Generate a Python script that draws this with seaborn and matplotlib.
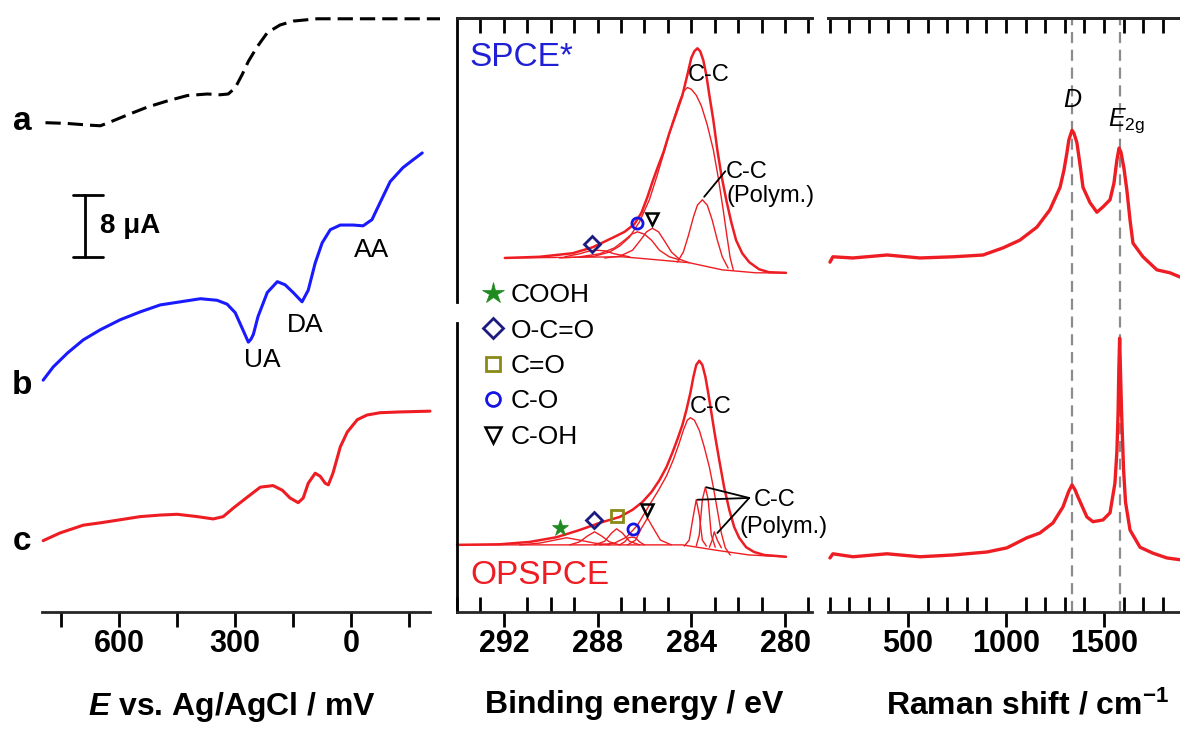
import numpy as np
import matplotlib.pyplot as plt
import seaborn as sns
from matplotlib.lines import Line2D
from matplotlib.ticker import MultipleLocator

sns.set_style('white')
plt.rcParams['font.family'] = ['Liberation Sans', 'DejaVu Sans']
plt.rcParams['text.color'] = 'black'
plt.rcParams['axes.labelcolor'] = 'black'
plt.rcParams['xtick.color'] = 'black'
plt.rcParams['mathtext.fontset'] = 'custom'
plt.rcParams['mathtext.rm'] = 'Liberation Sans'
plt.rcParams['mathtext.it'] = 'Liberation Sans:italic'
plt.rcParams['mathtext.bf'] = 'Liberation Sans:bold'
if 'mathtext.bfit' in plt.rcParams:
    plt.rcParams['mathtext.bfit'] = 'Liberation Sans:italic:bold'

# --- CV curves (E in mV, current in uA with offsets) ---
CV_A_E = [791, 734, 683, 649, 623, 579, 528, 476, 424, 372, 339, 318, 300, 282,
          266, 243, 217, 184, 150, 88, -41, -230]
CV_A_I = [63.1, 63.0, 62.8, 62.7, 63.2, 64.1, 65.1, 65.9, 66.6, 66.8, 66.7, 66.8,
          67.6, 69.3, 71.0, 72.9, 74.7, 75.7, 76.2, 76.5, 76.5, 76.5]

CV_B_E = [797, 771, 734, 693, 649, 597, 546, 494, 442, 390, 347, 321, 300, 282,
          274, 266, 259, 253, 241, 217, 191, 171, 150, 127, 111, 93, 75, 54, 28,
          -5, -31, -54, -75, -101, -134, -160, -184]
CV_B_I = [29.9, 31.6, 33.4, 35.1, 36.4, 37.7, 38.7, 39.6, 40.0, 40.4, 40.2, 39.7,
          38.6, 36.6, 35.7, 34.8, 35.2, 35.8, 38.1, 41.2, 42.6, 42.2, 41.2, 40.0,
          41.5, 45.0, 47.6, 49.3, 49.9, 49.9, 49.8, 50.6, 52.8, 55.5, 57.3, 58.3, 59.2]

CV_C_E = [797, 753, 693, 649, 597, 546, 494, 450, 398, 357, 331, 305, 269, 235,
          202, 178, 158, 137, 124, 111, 93, 80, 67, 59, 47, 28, 10, -16, -41,
          -75, -127, -204]
CV_C_I = [9.2, 10.2, 11.2, 11.5, 11.9, 12.3, 12.5, 12.6, 12.3, 12.0, 12.3, 13.4,
          14.8, 16.1, 16.3, 15.7, 14.7, 14.1, 14.7, 16.6, 17.9, 17.5, 16.6, 16.4,
          17.9, 21.3, 23.2, 24.8, 25.4, 25.7, 25.8, 25.9]

CV_TICKS = [750, 600, 450, 300, 150, 0, -150]
CV_TICK_LABELS = ['', '600', '', '300', '', '0', '']
SCALE_E, SCALE_BOTTOM, SCALE_UA = 688, 45.8, 8

# --- XPS C1s (binding energy eV, intensity a.u.) ---
SPCE_ENV_BE = [291.96, 290.47, 289.06, 288.21, 287.36, 286.85, 286.43, 286.13,
               285.87, 285.66, 285.45, 285.19, 284.94, 284.64, 284.38, 284.17,
               284.00, 283.87, 283.74, 283.62, 283.49, 283.36, 283.23, 283.06,
               282.89, 282.72, 282.51, 282.30, 282.09, 281.83, 281.53, 281.11,
               280.68, 279.96]
SPCE_ENV_I = [59.6, 59.8, 60.4, 61.4, 63.0, 64.0, 65.3, 67.2, 69.9, 72.4, 74.7,
              77.4, 80.6, 84.0, 87.0, 90.4, 93.3, 94.4, 94.9, 94.4, 92.9, 90.4,
              87.0, 82.8, 77.8, 73.6, 69.4, 65.7, 62.6, 60.4, 58.9, 57.7, 57.2, 57.1]
SPCE_BG_BE = [291.96, 286.94, 285.49, 284.09, 282.68, 281.23, 279.96]
SPCE_BG_I = [59.6, 59.8, 59.3, 58.8, 57.6, 57.1, 57.1]
SPCE_CC_BE = [289.62, 288.13, 287.49, 287.06, 286.64, 286.21, 285.79, 285.45,
              285.11, 284.81, 284.55, 284.34, 284.17, 284.00, 283.79, 283.57,
              283.32, 283.06, 282.85, 282.64, 282.47, 282.34, 282.21]
SPCE_CC_I = [59.6, 59.9, 60.6, 61.6, 63.1, 65.7, 69.4, 73.6, 78.1, 82.3, 85.5,
             87.6, 88.3, 88.0, 87.0, 85.2, 82.0, 77.8, 73.1, 67.7, 63.0, 59.6, 57.6]
SPCE_POLY_BE = [284.60, 284.34, 284.13, 283.91, 283.74, 283.53, 283.32, 283.11,
                282.89, 282.68, 282.43]
SPCE_POLY_I = [58.9, 60.6, 63.3, 66.5, 68.5, 69.4, 68.5, 66.0, 62.6, 59.8, 57.9]
SPCE_COH_BE = [287.70, 287.06, 286.51, 286.17, 285.91, 285.66, 285.40, 285.15,
               284.85, 284.51, 284.09]
SPCE_COH_I = [59.6, 59.9, 60.9, 62.6, 64.0, 64.6, 64.0, 62.5, 60.6, 59.4, 58.8]
SPCE_CO_BE = [288.77, 287.91, 287.28, 286.85, 286.55, 286.30, 286.00, 285.70,
              285.36, 284.94, 284.51]
SPCE_CO_I = [59.8, 60.3, 61.3, 62.6, 63.6, 64.0, 63.6, 62.6, 60.9, 59.8, 59.3]
SPCE_OCO_BE = [289.40, 288.77, 288.34, 288.04, 287.70, 287.28, 286.64]
SPCE_OCO_I = [59.8, 60.3, 60.8, 60.9, 60.8, 60.3, 59.8]
SPCE_MARK_KIND = ['O-C=O', 'C-O', 'C-OH']
SPCE_MARK_BE = [288.26, 286.30, 285.66]
SPCE_MARK_I = [62.0, 65.5, 66.2]

OPS_ENV_BE = [294.0, 292.17, 290.89, 289.74, 288.77, 287.91, 287.06, 286.51,
              286.09, 285.70, 285.36, 285.06, 284.81, 284.60, 284.38, 284.21,
              284.04, 283.91, 283.79, 283.66, 283.53, 283.40, 283.28, 283.15,
              282.98, 282.81, 282.60, 282.38, 282.17, 281.96, 281.66, 281.32,
              280.89, 279.96]
OPS_ENV_I = [11.3, 11.4, 11.8, 12.6, 13.8, 15.0, 16.0, 17.2, 18.5, 20.2, 22.2,
             24.4, 26.8, 29.0, 31.5, 34.0, 36.9, 39.6, 41.6, 42.3, 41.6, 39.6,
             36.9, 33.7, 29.5, 25.6, 21.0, 17.2, 14.3, 12.5, 10.9, 10.1, 9.6, 9.3]
OPS_BG_BE = [294.0, 285.06, 284.38, 282.94, 281.53, 279.96]
OPS_BG_I = [11.3, 11.3, 11.3, 10.4, 9.6, 9.3]
OPS_CC_BE = [287.91, 287.28, 286.77, 286.30, 285.79, 285.40, 285.06, 284.77,
             284.51, 284.34, 284.17, 284.04, 283.87, 283.66, 283.45, 283.23,
             283.06, 282.89, 282.72, 282.55, 282.34]
OPS_CC_I = [11.3, 11.6, 12.6, 14.6, 18.0, 20.5, 22.9, 25.6, 28.5, 30.6, 32.3,
            32.7, 32.3, 30.6, 27.8, 24.4, 21.0, 17.2, 13.3, 10.8, 9.6]
OPS_POLY1_BE = [284.30, 284.09, 283.91, 283.79, 283.66, 283.53, 283.36]
OPS_POLY1_I = [11.1, 12.1, 16.3, 18.9, 16.3, 12.1, 11.1]
OPS_POLY2_BE = [283.79, 283.66, 283.53, 283.40, 283.28, 283.15, 282.98]
OPS_POLY2_I = [11.1, 13.0, 18.9, 21.0, 18.9, 13.0, 10.9]
OPS_POLY3_BE = [283.23, 283.11, 283.02, 282.89, 282.72]
OPS_POLY3_I = [10.9, 12.1, 13.5, 12.1, 10.8]
OPS_COOH_BE = [291.32, 290.47, 289.83, 289.32, 288.77, 288.13, 287.49]
OPS_COOH_I = [11.3, 11.6, 12.1, 12.5, 12.1, 11.6, 11.3]
OPS_OCO_BE = [289.19, 288.77, 288.43, 288.13, 287.83, 287.49, 287.06]
OPS_OCO_I = [11.3, 11.8, 12.8, 13.5, 12.8, 11.8, 11.3]
OPS_CDO_BE = [288.13, 287.70, 287.40, 287.19, 286.94, 286.64, 286.21]
OPS_CDO_I = [11.3, 11.9, 13.3, 14.0, 13.3, 11.9, 11.3]
OPS_CO_BE = [287.06, 286.85, 286.68, 286.55, 286.38, 286.21, 286.00]
OPS_CO_I = [11.3, 11.8, 12.5, 12.6, 12.5, 11.8, 11.3]
OPS_COH_BE = [286.72, 286.38, 286.13, 285.87, 285.62, 285.32, 284.85]
OPS_COH_I = [11.3, 12.1, 14.1, 15.8, 14.1, 12.1, 11.3]
OPS_MARK_KIND = ['COOH', 'O-C=O', 'C=O', 'C-O', 'C-OH']
OPS_MARK_BE = [289.62, 288.17, 287.19, 286.51, 285.91]
OPS_MARK_I = [14.1, 15.5, 16.2, 14.0, 17.2]

XPS_MAJOR = [292, 288, 284, 280]

# --- Raman (shift cm-1, intensity a.u.) ---
RAMAN_TOP_X = [102, 117, 219, 393, 561, 730, 883, 985, 1071, 1158, 1224, 1276,
               1296, 1311, 1321, 1337, 1347, 1362, 1378, 1393, 1429, 1464, 1495,
               1531, 1551, 1566, 1577, 1587, 1602, 1617, 1633, 1648, 1699, 1770,
               1837, 1888]
RAMAN_TOP_I = [58.9, 59.8, 59.6, 60.1, 59.6, 59.8, 60.1, 61.3, 62.6, 64.8, 67.7,
               71.5, 74.4, 77.3, 79.5, 81.1, 80.6, 79.0, 75.3, 71.5, 68.9, 67.3,
               68.2, 69.4, 72.2, 76.1, 78.1, 77.4, 74.7, 71.0, 66.0, 62.1, 59.8,
               57.6, 57.1, 56.4]
RAMAN_BOT_X = [102, 117, 219, 393, 561, 730, 903, 1005, 1107, 1173, 1240, 1291,
               1320, 1337, 1352, 1367, 1413, 1444, 1495, 1531, 1556, 1566, 1572,
               1576, 1580, 1584, 1590, 1600, 1610, 1633, 1684, 1750, 1821, 1888]
RAMAN_BOT_I = [9.1, 9.8, 9.3, 9.8, 9.3, 9.6, 10.1, 10.8, 12.5, 13.3, 15.0, 17.7,
               20.3, 21.4, 20.6, 19.4, 16.0, 15.2, 15.5, 16.7, 21.7, 27.0, 33.5,
               41.0, 46.1, 41.0, 33.5, 24.0, 18.5, 13.8, 10.9, 9.9, 9.1, 8.8]
D_BAND, G_BAND = 1337, 1580
RAMAN_MAJOR = [500, 1000, 1500]

# --- styles ---
RED = '#ee1d23'
BLUE = '#1a1aff'
MARKER_STYLE = {
    'COOH': dict(marker='*', color='#1f8a1f', mec='#1f8a1f', mfc='#1f8a1f', ms=16, mew=0.5),
    'O-C=O': dict(marker='D', color='#1c1c80', mec='#1c1c80', mfc='none', ms=10, mew=2),
    'C=O': dict(marker='s', color='#8a8a16', mec='#8a8a16', mfc='none', ms=10, mew=2),
    'C-O': dict(marker='o', color='#1414e6', mec='#1414e6', mfc='none', ms=10, mew=2),
    'C-OH': dict(marker='v', color='black', mec='black', mfc='none', ms=11, mew=1.8),
}
TICK_FS, LABEL_FS = 22, 23

W, H = 1180, 736


def px_axes(fig, x0, y0, x1, y1):
    return fig.add_axes([x0 / W, 1 - y1 / H, (x1 - x0) / W, (y1 - y0) / H])


def line(ax, x, y, color, lw):
    sns.lineplot(x=x, y=y, ax=ax, color=color, lw=lw, sort=False,
                 estimator=None, clip_on=False)


def bold_ticks(ax):
    for lbl in ax.get_xticklabels():
        lbl.set_fontweight('bold')


def bottom_ticks(ax):
    ax.tick_params(axis='x', which='major', direction='out', length=11, width=2,
                   labelsize=TICK_FS, pad=1, bottom=True, top=False)
    ax.tick_params(axis='x', which='minor', direction='in', length=11, width=2,
                   bottom=True, top=False)


fig = plt.figure(figsize=(W / 100, H / 100), dpi=100)
ax_cv = px_axes(fig, 42, 18, 440, 612)
ax_xps = px_axes(fig, 457, 18, 812, 612)
ax_ram = px_axes(fig, 828, 18, 1180, 612)

# ---------------- CV panel ----------------
line(ax_cv, CV_A_E, CV_A_I, 'black', 2.2)
ax_cv.lines[-1].set_dashes([5, 2.3])
line(ax_cv, CV_B_E, CV_B_I, BLUE, 2.2)
line(ax_cv, CV_C_E, CV_C_I, RED, 2.2)

ax_cv.set_xlim(800, -230)
ax_cv.set_ylim(0, 76.6)
for s in ['left', 'top', 'right']:
    ax_cv.spines[s].set_visible(False)
ax_cv.spines['bottom'].set_linewidth(2)
ax_cv.spines['bottom'].set_bounds(800, -205)
ax_cv.set_yticks([])
ax_cv.set_xticks(CV_TICKS)
ax_cv.set_xticklabels(CV_TICK_LABELS)
bottom_ticks(ax_cv)
bold_ticks(ax_cv)
ax_cv.set_ylabel('')
ax_cv.set_xlabel(r'$\mathbfit{E}$ vs. Ag/AgCl / mV', fontsize=LABEL_FS, fontweight='bold')
ax_cv.xaxis.set_label_coords(0.477, -0.132)

# scale bar
ax_cv.plot([SCALE_E, SCALE_E], [SCALE_BOTTOM, SCALE_BOTTOM + SCALE_UA], color='black', lw=2)
for yy in [SCALE_BOTTOM, SCALE_BOTTOM + SCALE_UA]:
    ax_cv.plot([SCALE_E + 33, SCALE_E - 47], [yy, yy], color='black', lw=2)
ax_cv.text(649, SCALE_BOTTOM + SCALE_UA / 2, '8 μA', fontsize=20, fontweight='bold',
           ha='left', va='center')
ax_cv.text(230, 32.5, 'UA', fontsize=19, ha='center', va='center')
ax_cv.text(119, 37.0, 'DA', fontsize=19, ha='center', va='center')
ax_cv.text(-54, 46.7, 'AA', fontsize=19, ha='center', va='center')
for lab, ypx in [('a', 122), ('b', 385), ('c', 542)]:
    fig.text(22 / W, 1 - ypx / H, lab, fontsize=24, fontweight='bold',
             ha='center', va='center')

# ---------------- XPS panel ----------------
comp_lw = 1.0
line(ax_xps, SPCE_BG_BE, SPCE_BG_I, RED, comp_lw)
for be, it in [(SPCE_CC_BE, SPCE_CC_I), (SPCE_POLY_BE, SPCE_POLY_I),
               (SPCE_COH_BE, SPCE_COH_I), (SPCE_CO_BE, SPCE_CO_I),
               (SPCE_OCO_BE, SPCE_OCO_I)]:
    line(ax_xps, be, it, RED, comp_lw)
line(ax_xps, SPCE_ENV_BE, SPCE_ENV_I, RED, 1.8)

line(ax_xps, OPS_BG_BE, OPS_BG_I, RED, comp_lw)
for be, it in [(OPS_CC_BE, OPS_CC_I), (OPS_POLY1_BE, OPS_POLY1_I),
               (OPS_POLY2_BE, OPS_POLY2_I), (OPS_POLY3_BE, OPS_POLY3_I),
               (OPS_COOH_BE, OPS_COOH_I), (OPS_OCO_BE, OPS_OCO_I),
               (OPS_CDO_BE, OPS_CDO_I), (OPS_CO_BE, OPS_CO_I),
               (OPS_COH_BE, OPS_COH_I)]:
    line(ax_xps, be, it, RED, comp_lw)
line(ax_xps, OPS_ENV_BE, OPS_ENV_I, RED, 1.8)

for kinds, bes, its in [(SPCE_MARK_KIND, SPCE_MARK_BE, SPCE_MARK_I),
                        (OPS_MARK_KIND, OPS_MARK_BE, OPS_MARK_I)]:
    for k, be, it in zip(kinds, bes, its):
        st = dict(MARKER_STYLE[k])
        st['ms'] = st['ms'] * 0.8
        ax_xps.plot([be], [it], ls='none', **st)

handles = [Line2D([], [], ls='none', label=k, **MARKER_STYLE[k]) for k in MARKER_STYLE]
ax_xps.legend(handles=handles, loc='upper left', bbox_to_anchor=(0.043, 0.571),
              frameon=False, fontsize=19, handlelength=0.8, handletextpad=0.25,
              labelspacing=0.43, borderaxespad=0)

ax_xps.text(293.45, 93.4, 'SPCE*', color='#1f1fd6', fontsize=24, ha='left', va='center')
ax_xps.text(293.45, 6.2, 'OPSPCE', color=RED, fontsize=24, ha='left', va='center')
ax_xps.text(283.28, 90.4, 'C-C', fontsize=17, ha='center', va='center')
ax_xps.text(282.51, 72.1, 'C-C\n(Polym.)', fontsize=17, ha='left', va='center',
            linespacing=1.1)
ax_xps.plot([283.45, 282.55], [69.9, 74.2], color='black', lw=1.3)
ax_xps.text(283.19, 34.5, 'C-C', fontsize=17, ha='center', va='center')
ax_xps.text(281.32, 18.9, 'C-C', fontsize=17, ha='left', va='center')
ax_xps.text(281.96, 14.3, '(Polym.)', fontsize=17, ha='left', va='center')
for be0, i0 in [(283.74, 18.9), (283.36, 21.0), (282.89, 13.3)]:
    ax_xps.plot([be0, 281.53], [i0, 19.2], color='black', lw=1.3)

ax_xps.set_xlim(294, 278.85)
ax_xps.set_ylim(0, 100)
for s in ['left', 'right']:
    ax_xps.spines[s].set_visible(False)
for s in ['top', 'bottom']:
    ax_xps.spines[s].set_linewidth(2)
for y0, y1 in [(0, 0.4865), (0.522, 1)]:
    ax_xps.add_line(Line2D([0, 0], [y0, y1], transform=ax_xps.transAxes, color='black',
                           lw=2, clip_on=False, solid_capstyle='projecting'))
ax_xps.set_yticks([])
ax_xps.set_xticks(XPS_MAJOR)
ax_xps.xaxis.set_minor_locator(MultipleLocator(1))
bottom_ticks(ax_xps)
bold_ticks(ax_xps)
sec = ax_xps.secondary_xaxis('top')
sec.set_xticks(np.arange(279, 294))
sec.tick_params(axis='x', direction='in', length=11, width=2, top=True, labeltop=False)
sec.spines['top'].set_linewidth(2)
ax_xps.set_ylabel('')
ax_xps.set_xlabel('Binding energy / eV', fontsize=LABEL_FS, fontweight='bold')
ax_xps.xaxis.set_label_coords(0.5, -0.132)

# ---------------- Raman panel ----------------
for xpos in [D_BAND, G_BAND]:
    ax_ram.axvline(xpos, color='#8c8c8c', lw=1.6, dashes=(5, 3), zorder=1)
line(ax_ram, RAMAN_TOP_X, RAMAN_TOP_I, RED, 2.4)
line(ax_ram, RAMAN_BOT_X, RAMAN_BOT_I, RED, 2.4)
ax_ram.text(D_BAND, 86.2, 'D', fontsize=18, style='italic', ha='center', va='center')
ax_ram.text(1520, 82.8, r'$E_{\rm 2g}$', fontsize=18, ha='left', va='center')

ax_ram.set_xlim(92, 1888)
ax_ram.set_ylim(0, 100)
for s in ['left', 'right']:
    ax_ram.spines[s].set_visible(False)
for s in ['top', 'bottom']:
    ax_ram.spines[s].set_linewidth(2)
ax_ram.set_yticks([])
ax_ram.set_xticks(RAMAN_MAJOR)
ax_ram.xaxis.set_minor_locator(MultipleLocator(100))
bottom_ticks(ax_ram)
bold_ticks(ax_ram)
sec2 = ax_ram.secondary_xaxis('top')
sec2.set_xticks(np.arange(100, 1900, 100))
sec2.tick_params(axis='x', direction='in', length=11, width=2, top=True, labeltop=False)
sec2.spines['top'].set_linewidth(2)
ax_ram.set_ylabel('')
ax_ram.set_xlabel(r'Raman shift / cm$^{\mathbf{-1}}$', fontsize=LABEL_FS, fontweight='bold')
ax_ram.xaxis.set_label_coords(0.568, -0.132)

fig.savefig('out.png', dpi=100, facecolor='white')
